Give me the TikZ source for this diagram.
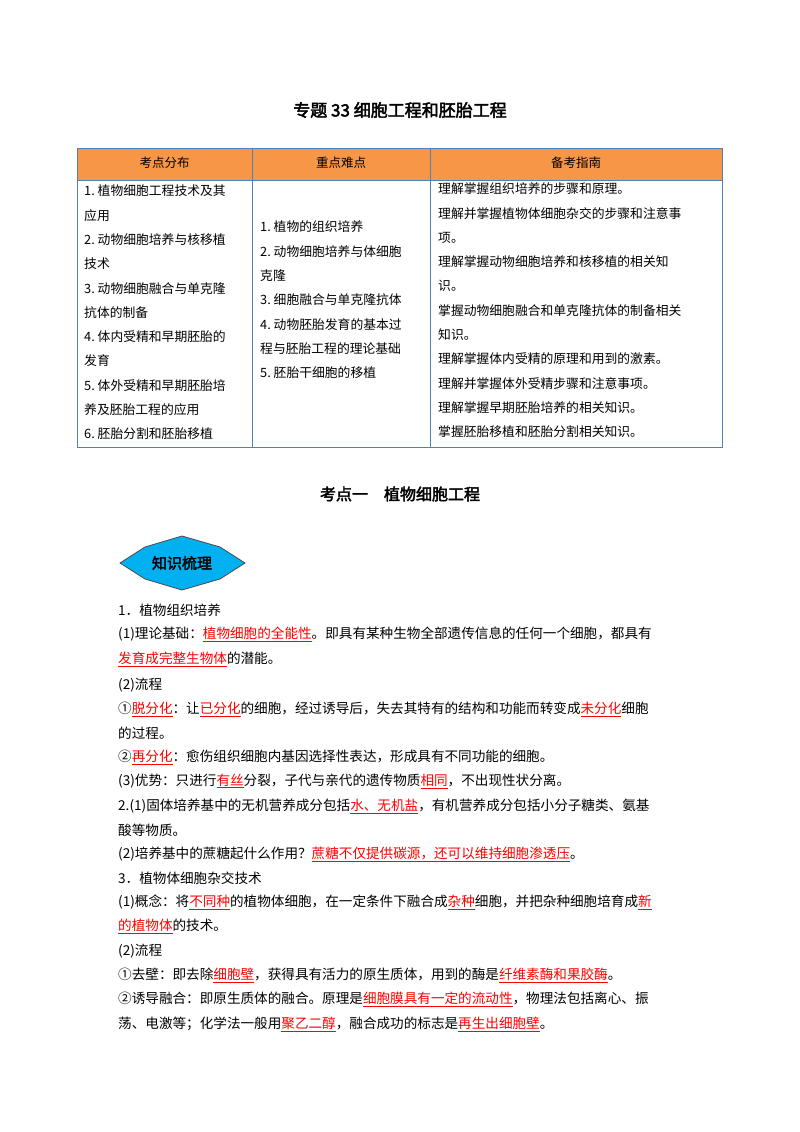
\documentclass[tikz,border=0pt]{standalone}
\usepackage{fontspec}
\setmainfont{Noto Sans CJK SC}[AutoFakeBold=2.5]
\definecolor{hdr}{HTML}{F79646}
\definecolor{bl}{HTML}{4F81BD}
\definecolor{dia}{HTML}{00B0F0}
\newcommand{\rr}[1]{{\color{red}\underline{#1}}}
\begin{document}
\begin{tikzpicture}[x=1pt,y=-1pt,
  t/.style={anchor=west,inner sep=0pt,font=\fontsize{13.6}{14}\selectfont},
  c/.style={anchor=west,inner sep=0pt,font=\fontsize{12.8}{13}\selectfont},
  h/.style={inner sep=0pt,font=\fontsize{12.5}{13}\selectfont}]
\useasboundingbox[fill=white] (0,0) rectangle (800,1132);
\node[inner sep=0pt,font=\fontsize{17}{18}\selectfont\bfseries] (title) at (400,110) {专题 33\ 细胞工程和胚胎工程};
% table
\fill[hdr] (77,148) rectangle (722,180);
\draw[bl,line width=1pt] (77,148) rectangle (722,447);
\draw[bl,line width=1pt] (77,180) -- (722,180) (252,148) -- (252,447) (430,148) -- (430,447);
\node[h] (h1) at (164.5,163) {考点分布};
\node[h] (h2) at (341,163) {重点难点};
\node[h] (h3) at (576,163) {备考指南};
\foreach \s [count=\i] in {1.\ 植物细胞工程技术及其,应用,2.\ 动物细胞培养与核移植,技术,3.\ 动物细胞融合与单克隆,抗体的制备,4.\ 体内受精和早期胚胎的,发育,5.\ 体外受精和早期胚胎培,养及胚胎工程的应用,6.\ 胚胎分割和胚胎移植}
  \node[c] (a\i) at (84,{191+24.3*(\i-1)}) {\s};
\foreach \s [count=\i] in {1.\ 植物的组织培养,2.\ 动物细胞培养与体细胞,克隆,3.\ 细胞融合与单克隆抗体,4.\ 动物胚胎发育的基本过,程与胚胎工程的理论基础,5.\ 胚胎干细胞的移植}
  \node[c] (b\i) at (260,{227+24.3*(\i-1)}) {\s};
\foreach \s [count=\i] in {理解掌握组织培养的步骤和原理。,理解并掌握植物体细胞杂交的步骤和注意事,项。,理解掌握动物细胞培养和核移植的相关知,识。,掌握动物细胞融合和单克隆抗体的制备相关,知识。,理解掌握体内受精的原理和用到的激素。,理解并掌握体外受精步骤和注意事项。,理解掌握早期胚胎培养的相关知识。,掌握胚胎移植和胚胎分割相关知识。}
  \node[c] (g\i) at (438,{189+24.3*(\i-1)}) {\s};
\node[inner sep=0pt,font=\fontsize{16}{17}\selectfont\bfseries] (sub) at (400,494) {考点一\quad 植物细胞工程};
% badge
\draw[black!70,fill=dia,line width=0.8pt] (120,563) -- (145,547) -- (182,536) -- (220,547) -- (245,563) -- (220,579) -- (182,590) -- (145,579) -- cycle;
\node[inner sep=0pt,font=\fontsize{15}{16}\selectfont\bfseries] (badge) at (182,563) {知识梳理};
% body
\node[t] (l1) at (118,610) {1．植物组织培养};
\node[t] (l2) at (118,634) {(1)理论基础：\rr{植物细胞的全能性}。即具有某种生物全部遗传信息的任何一个细胞，都具有};
\node[t] (l3) at (118,659) {\rr{发育成完整生物体}的潜能。};
\node[t] (l4) at (118,685) {(2)流程};
\node[t] (l5) at (118,709) {①\rr{脱分化}：让\rr{已分化}的细胞，经过诱导后，失去其特有的结构和功能而转变成\rr{未分化}细胞};
\node[t] (l6) at (118,733) {的过程。};
\node[t] (l7) at (118,757) {②\rr{再分化}：愈伤组织细胞内基因选择性表达，形成具有不同功能的细胞。};
\node[t] (l8) at (118,781) {(3)优势：只进行\rr{有丝}分裂，子代与亲代的遗传物质\rr{相同}，不出现性状分离。};
\node[t] (l9) at (118,806) {2.(1)固体培养基中的无机营养成分包括\rr{水、无机盐}，有机营养成分包括小分子糖类、氨基};
\node[t] (l10) at (118,830) {酸等物质。};
\node[t] (l11) at (118,854) {(2)培养基中的蔗糖起什么作用？\rr{蔗糖不仅提供碳源，还可以维持细胞渗透压}。};
\node[t] (l12) at (118,878) {3．植物体细胞杂交技术};
\node[t] (l13) at (118,902) {(1)概念：将\rr{不同种}的植物体细胞，在一定条件下融合成\rr{杂种}细胞，并把杂种细胞培育成\rr{新}};
\node[t] (l14) at (118,926) {\rr{的植物体}的技术。};
\node[t] (l15) at (118,951) {(2)流程};
\node[t] (l16) at (118,975) {①去壁：即去除\rr{细胞壁}，获得具有活力的原生质体，用到的酶是\rr{纤维素酶和果胶酶}。};
\node[t] (l17) at (118,999) {②诱导融合：即原生质体的融合。原理是\rr{细胞膜具有一定的流动性}，物理法包括离心、振};
\node[t] (l18) at (118,1024) {荡、电激等；化学法一般用\rr{聚乙二醇}，融合成功的标志是\rr{再生出细胞壁}。};
\end{tikzpicture}
\end{document}
